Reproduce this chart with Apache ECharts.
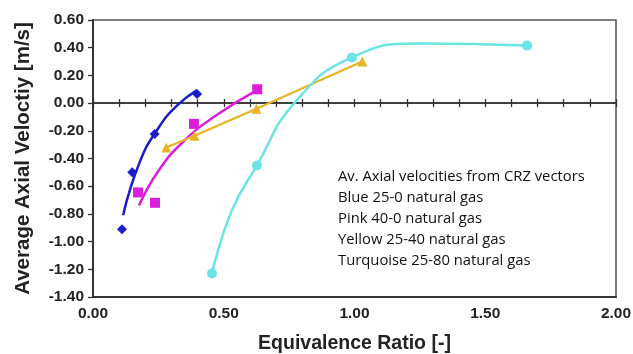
<!DOCTYPE html>
<html><head><meta charset="utf-8">
<script src="https://cdn.jsdelivr.net/npm/echarts@6/dist/echarts.min.js"></script>
<style>html,body{margin:0;padding:0;background:#fff}#c{width:633px;height:354px}</style>
</head><body><div id="c"></div>
<script>
// Data
const yTicks = [-1.4, -1.2, -1.0, -0.8, -0.6, -0.4, -0.2, 0.0, 0.2, 0.4, 0.6];
const xTicks = [0, 0.5, 1.0, 1.5, 2.0];

const bluePts = [[0.111, -0.91], [0.150, -0.50], [0.236, -0.224], [0.398, 0.065]];
const blueTrend = [[0.115, -0.81], [0.18, -0.42], [0.25, -0.18], [0.32, -0.02], [0.398, 0.094]];

const pinkPts = [[0.172, -0.645], [0.237, -0.72], [0.386, -0.15], [0.628, 0.10]];
const pinkTrend = [[0.176, -0.74], [0.25, -0.49], [0.35, -0.27], [0.47, -0.09], [0.627, 0.094]];

const yellowPts = [[0.28, -0.32], [0.388, -0.235], [0.625, -0.04], [1.03, 0.30]];

const turqPts = [[0.455, -1.23], [0.627, -0.45], [0.99, 0.33], [1.66, 0.415]];
const turqLine = [[0.455, -1.23], [0.53, -0.78], [0.627, -0.45], [0.77, 0.0], [0.99, 0.33], [1.25, 0.43], [1.66, 0.415]];

const noteLines = [
  'Av. Axial velocities from CRZ vectors',
  'Blue 25-0 natural gas',
  'Pink 40-0 natural gas',
  'Yellow 25-40 natural gas',
  'Turquoise 25-80 natural gas'
];

const C = { blue: '#1c1cc8', pink: '#dc1edc', yellow: '#e6b425', turq: '#6ae4e4' };

const chart = echarts.init(document.getElementById('c'), null, { renderer: 'canvas' });
const FF = 'Liberation Sans, Arial, sans-serif';
const labelFont = { fontFamily: FF, fontSize: 15.5, fontWeight: 'bold', color: '#222' };
const titleFont = { fontFamily: FF, fontSize: 19.5, fontWeight: 'bold', color: '#222' };
const gridBox = { left: 93, right: 17, top: 20, bottom: 57, outerBoundsMode: 'none', containLabel: false };
const tickStyle = { color: '#333', width: 1.3 };

chart.setOption({
  animation: false,
  backgroundColor: '#fff',
  grid: [
    Object.assign({ show: true, borderColor: '#555', borderWidth: 1.5, backgroundColor: 'transparent' }, gridBox),
    Object.assign({ show: false }, gridBox)
  ],
  xAxis: [
    {
      gridIndex: 0, type: 'value', min: 0, max: 2, interval: 0.5, position: 'bottom',
      axisLine: { onZero: false, lineStyle: { color: '#333', width: 2 } },
      axisTick: { show: false },
      splitLine: { show: false },
      axisLabel: Object.assign({ margin: 9, formatter: v => v.toFixed(2) }, labelFont),
      name: 'Equivalence Ratio [-]', nameLocation: 'middle', nameGap: 37,
      nameTextStyle: titleFont
    },
    {
      gridIndex: 0, type: 'value', min: 0, max: 2, interval: 0.1, position: 'top',
      axisLine: { show: true, onZero: true, lineStyle: { color: '#333', width: 1.5 } },
      axisTick: { show: true, inside: false, length: 4, lineStyle: tickStyle },
      axisLabel: { show: false }, splitLine: { show: false }
    },
    {
      gridIndex: 1, type: 'value', min: 0, max: 2, interval: 0.1, position: 'bottom',
      axisLine: { show: true, onZero: true, lineStyle: { color: '#333', width: 1.5 } },
      axisTick: { show: true, inside: false, length: 4, lineStyle: tickStyle },
      axisLabel: { show: false }, splitLine: { show: false }
    }
  ],
  yAxis: [
    {
      gridIndex: 0, type: 'value', min: yTicks[0], max: yTicks[yTicks.length - 1], interval: 0.2,
      axisLine: { show: true, onZero: false, lineStyle: { color: '#333', width: 2 } },
      axisTick: { show: true, length: 5, lineStyle: tickStyle },
      splitLine: { show: false },
      axisLabel: Object.assign({ margin: 9, formatter: v => v.toFixed(2) }, labelFont),
      name: 'Average Axial Veloctiy [m/s]', nameLocation: 'middle', nameGap: 59,
      nameTextStyle: Object.assign({}, titleFont, { fontSize: 20.5 })
    },
    {
      gridIndex: 1, type: 'value', min: yTicks[0], max: yTicks[yTicks.length - 1], interval: 0.2, show: false
    }
  ],
  series: [
    { type: 'line', data: blueTrend, smooth: true, showSymbol: false, lineStyle: { color: C.blue, width: 2.5 }, z: 2 },
    { type: 'scatter', data: bluePts, symbol: 'diamond', symbolSize: 10, itemStyle: { color: C.blue, opacity: 1 }, z: 3 },
    { type: 'line', data: pinkTrend, smooth: true, showSymbol: false, lineStyle: { color: C.pink, width: 2.5 }, z: 2 },
    { type: 'scatter', data: pinkPts, symbol: 'rect', symbolSize: 10, itemStyle: { color: C.pink, opacity: 1 }, z: 3 },
    { type: 'line', data: yellowPts, smooth: false, symbol: 'triangle', symbolSize: 10, lineStyle: { color: C.yellow, width: 2.2 }, itemStyle: { color: C.yellow }, z: 2 },
    { type: 'line', data: turqLine, smooth: true, showSymbol: false, lineStyle: { color: C.turq, width: 2.5 }, z: 2 },
    { type: 'scatter', data: turqPts, symbol: 'circle', symbolSize: 10, itemStyle: { color: C.turq, opacity: 1 }, z: 3 }
  ],
  graphic: noteLines.map((t, i) => ({
    type: 'text', left: 338, top: 169 + i * 21,
    style: { text: t, font: '14.8px "Open Sans", sans-serif', fill: '#111' }
  }))
});
</script></body></html>
